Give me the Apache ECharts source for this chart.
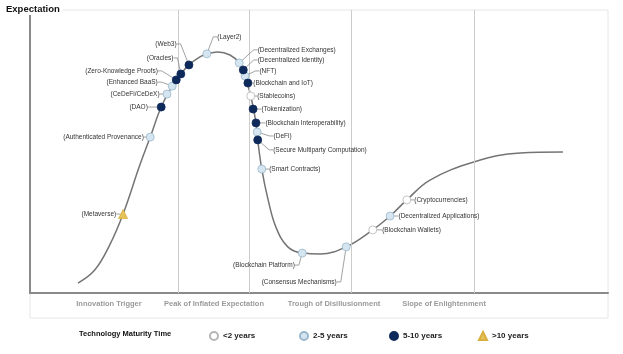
<!DOCTYPE html>
<html lang="en">
  <head>
    <meta charset="utf-8" />
    <title>Hype Cycle</title>
    <script src="https://cdn.jsdelivr.net/npm/echarts@6/dist/echarts.min.js"></script>
    <style>
      html, body { margin: 0; padding: 0; background: #fff; }
      #main { width: 623px; height: 354px; }
    </style>
  </head>
  <body>
    <div id="main"></div>
    <script>
      // hype curve, x = time (0-100), y = expectation (0-100)
      var curveX = [8.3, 11.2, 13.8, 16.1, 19.0, 20.8, 22.7, 24.6, 26.1, 27.5, 29.4, 30.6, 32.5, 34.6, 36.2, 37.2, 38.2, 39.1, 39.4, 40.1, 41.2, 42.6, 44.6, 47.1, 50.2, 54.7, 59.3, 62.3, 65.2, 69.2, 76.8, 84.8, 92.2];
      var curveY = [3.5, 8.1, 17.0, 27.9, 45.2, 55.1, 65.7, 73.1, 77.4, 80.6, 83.4, 84.5, 85.2, 84.1, 81.3, 76.7, 69.6, 60.1, 54.1, 43.8, 32.9, 23.0, 16.3, 14.1, 13.8, 16.3, 22.3, 27.2, 32.9, 39.9, 46.3, 49.5, 49.8];

      var phaseNames = ["Innovation Trigger", "Peak of Inflated Expectation", "Trough of Disillusionment", "Slope of Enlightenment"];
      var phaseBounds = [25.6, 37.9, 55.5, 76.8];

      var legendNames = ["<2 years", "2-5 years", "5-10 years", ">10 years"];

      // <2 years
      var lt2Names = ["Stablecoins", "Blockchain Wallets", "Cryptocurrencies"];
      var lt2X = [38.2, 59.3, 65.2];
      var lt2Y = [69.6, 22.3, 32.9];

      // 2-5 years
      var y25Names = ["Authenticated Provenance", "CeDeFi/CeDeX", "Enhanced BaaS", "Layer2", "Decentralized Exchanges", "NFT", "DeFi", "Smart Contracts", "Blockchain Platform", "Consensus Mechanisms", "Decentralized Applications"];
      var y25X = [20.8, 23.7, 24.6, 30.6, 36.2, 37.2, 39.3, 40.1, 47.1, 54.7, 62.3];
      var y25Y = [55.1, 70.3, 73.1, 84.5, 81.3, 76.7, 56.9, 43.8, 14.1, 16.3, 27.2];

      // 5-10 years
      var y510Names = ["DAO", "Zero-Knowledge Proofs", "Oracles", "Web3", "Decentralized Identity", "Blockchain and IoT", "Tokenization", "Blockchain Interoperability", "Secure Multiparty Computation"];
      var y510X = [22.7, 25.3, 26.1, 27.5, 36.9, 37.7, 38.6, 39.1, 39.4];
      var y510Y = [65.7, 75.3, 77.4, 80.6, 78.8, 74.2, 65.0, 60.1, 54.1];

      // >10 years
      var gt10Names = ["Metaverse"];
      var gt10X = [16.1];
      var gt10Y = [27.9];

      // label side and nudge (dx, dy) in pixels
      var labelPlace = {
        "Metaverse": ["left", 3, 0],
        "Authenticated Provenance": ["left", 3, 0],
        "DAO": ["left", -4, 0],
        "CeDeFi/CeDeX": ["left", 2, 0],
        "Enhanced BaaS": ["left", -5, -4],
        "Zero-Knowledge Proofs": ["left", -9, -9],
        "Oracles": ["left", 2, -16],
        "Web3": ["left", -3, -21],
        "Layer2": ["right", 1, -17],
        "Decentralized Exchanges": ["right", 9, -13],
        "Decentralized Identity": ["right", 5, -10],
        "NFT": ["right", 5, -5],
        "Blockchain and IoT": ["right", -4, 0],
        "Stablecoins": ["right", -3, 0],
        "Tokenization": ["right", -1, 0],
        "Blockchain Interoperability": ["right", 0, 0],
        "DeFi": ["right", 7, 4],
        "Secure Multiparty Computation": ["right", 6, 10],
        "Smart Contracts": ["right", -2, 0],
        "Blockchain Platform": ["left", 2, 12],
        "Consensus Mechanisms": ["left", 0, 35],
        "Blockchain Wallets": ["right", 0, 0],
        "Decentralized Applications": ["right", -1, 0],
        "Cryptocurrencies": ["right", -2, 0]
      };

      function pts(names, xs, ys) {
        return names.map(function (n, i) {
          return {
            name: n,
            value: [xs[i], ys[i]],
            label: { position: labelPlace[n][0] }
          };
        });
      }

      function techSeries(name, names, xs, ys, symbol, color, border) {
        return {
          name: name,
          type: "scatter",
          symbol: symbol,
          symbolSize: symbol === "triangle" ? 9 : 8,
          z: 5,
          itemStyle: { color: color, borderColor: border, borderWidth: 0.8, opacity: 1 },
          label: {
            show: true,
            formatter: "({b})",
            fontSize: 6.5,
            fontFamily: "Liberation Sans, Arial",
            color: "#333",
            distance: 5
          },
          labelLine: { show: true, length2: 4, lineStyle: { color: "#8a8a8a", width: 0.8 } },
          labelLayout: function (p) {
            var o = labelPlace[names[p.dataIndex]];
            return { dx: o[1], dy: o[2] };
          },
          data: pts(names, xs, ys)
        };
      }

      var chart = echarts.init(document.getElementById("main"));

      var phaseCenters = [109, 214, 334, 444];
      var graphics = [
        {
          type: "rect",
          shape: { x: 30, y: 10, width: 578, height: 308 },
          style: { fill: "none", stroke: "#e6e6e6", lineWidth: 1 },
          z: -1
        },
        {
          type: "text",
          left: 79,
          top: 330,
          style: { text: "Technology Maturity Time", font: "bold 7.5px Liberation Sans, Arial", fill: "#111" }
        }
      ];
      phaseNames.forEach(function (n, i) {
        graphics.push({
          type: "text",
          x: phaseCenters[i],
          y: 304,
          style: {
            text: n,
            font: "bold 7.5px Liberation Sans, Arial",
            fill: "#9a9a9a",
            align: "center",
            verticalAlign: "middle"
          }
        });
      });

      var legendLeft = [209, 299, 389, 478];
      var legends = legendNames.map(function (n, i) {
        return {
          data: [n],
          left: legendLeft[i],
          top: 331,
          padding: 0,
          itemWidth: 8,
          itemHeight: 8,
          itemGap: 4,
          textStyle: { fontSize: 8, fontWeight: "bold", color: "#222", fontFamily: "Liberation Sans, Arial" }
        };
      });

      var option = {
        animation: false,
        title: {
          text: "Expectation",
          left: 3,
          top: 3,
          padding: [1, 3],
          backgroundColor: "#fff",
          textStyle: { fontSize: 9.5, fontWeight: "bold", color: "#111", fontFamily: "Liberation Sans, Arial" }
        },
        grid: { left: 30, right: 15, top: 10, bottom: 61 },
        xAxis: {
          type: "value",
          min: 0,
          max: 100,
          axisLine: { show: true, lineStyle: { color: "#8a8a8a", width: 2 } },
          axisTick: { show: false },
          axisLabel: { show: false },
          splitLine: { show: false }
        },
        yAxis: {
          type: "value",
          min: 0,
          max: 100,
          axisLine: { show: true, lineStyle: { color: "#8a8a8a", width: 2 } },
          axisTick: { show: false },
          axisLabel: { show: false },
          splitLine: { show: false }
        },
        legend: legends,
        graphic: graphics,
        series: [
          {
            type: "line",
            smooth: 0.4,
            showSymbol: false,
            silent: true,
            lineStyle: { color: "#747474", width: 1.5 },
            data: curveX.map(function (x, i) { return [x, curveY[i]]; }),
            markLine: {
              silent: true,
              symbol: "none",
              label: { show: false },
              lineStyle: { color: "#cccccc", width: 1, type: "solid" },
              data: phaseBounds.map(function (b) { return { xAxis: b }; })
            }
          },
          techSeries(legendNames[0], lt2Names, lt2X, lt2Y, "circle", "#ffffff", "#b5b5b5"),
          techSeries(legendNames[1], y25Names, y25X, y25Y, "circle", "#d6e6f0", "#9ab8cc"),
          techSeries(legendNames[2], y510Names, y510X, y510Y, "circle", "#0e2a5a", "#0e2a5a"),
          techSeries(legendNames[3], gt10Names, gt10X, gt10Y, "triangle", "#e6c25a", "#d9b040")
        ]
      };

      chart.setOption(option);
    </script>
  </body>
</html>
